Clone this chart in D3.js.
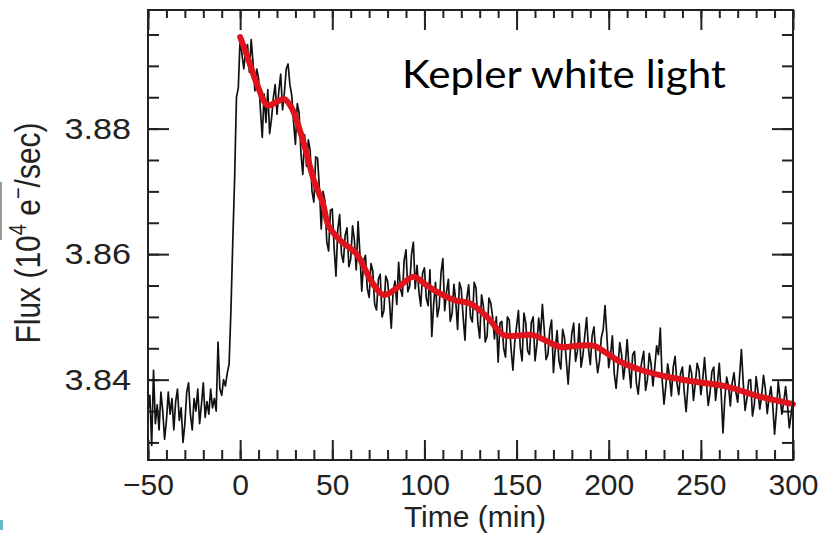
<!DOCTYPE html>
<html lang="en">
  <head>
    <meta charset="utf-8" />
    <title>Kepler white light</title>
    <script src="https://cdn.jsdelivr.net/npm/d3@7"></script>
    <style>
      body { margin: 0; background: #fff; }
      svg { display: block; }
    </style>
  </head>
  <body>
    <script>
      // tick labels
      const timeMajor = [-50, 0, 50, 100, 150, 200, 250, 300];
      const fluxMajor = [3.84, 3.86, 3.88];

      // raw light curve, 1 min cadence starting at -50 min
      const rawStart = -50;
      const rawStep = 1;
      const rawFlux = [
        3.8350, 3.8375, 3.8295, 3.8415, 3.8330, 3.8360, 3.8320, 3.8380, 3.8350, 3.8305,
        3.8335, 3.8380, 3.8345, 3.8370, 3.8320, 3.8365, 3.8385, 3.8335, 3.8355, 3.8300,
        3.8330, 3.8380, 3.8395, 3.8345, 3.8320, 3.8370, 3.8350, 3.8385, 3.8330, 3.8360,
        3.8395, 3.8340, 3.8365, 3.8345, 3.8385, 3.8355, 3.8370, 3.8350, 3.8460, 3.8385,
        3.8375, 3.8400, 3.8390, 3.8410, 3.8425, 3.8510, 3.8620, 3.8720, 3.8850, 3.8865,
        3.8945, 3.8918, 3.8895, 3.8925, 3.8934, 3.8890, 3.8942, 3.8905, 3.8860, 3.8895,
        3.8880, 3.8830, 3.8786, 3.8855, 3.8810, 3.8862, 3.8792, 3.8815, 3.8849, 3.8870,
        3.8823, 3.8860, 3.8887, 3.8830, 3.8857, 3.8895, 3.8903, 3.8870, 3.8853, 3.8810,
        3.8775, 3.8840, 3.8825, 3.8760, 3.8727, 3.8790, 3.8740, 3.8782, 3.8765, 3.8700,
        3.8683, 3.8755, 3.8753, 3.8705, 3.8640, 3.8700, 3.8685, 3.8620, 3.8605, 3.8670,
        3.8672, 3.8610, 3.8565, 3.8640, 3.8663, 3.8600, 3.8587, 3.8630, 3.8642, 3.8580,
        3.8592, 3.8645, 3.8622, 3.8575, 3.8652, 3.8600, 3.8541, 3.8590, 3.8598, 3.8545,
        3.8531, 3.8585, 3.8573, 3.8520, 3.8511, 3.8560, 3.8568, 3.8500, 3.8510, 3.8565,
        3.8557, 3.8525, 3.8482, 3.8540, 3.8557, 3.8520, 3.8587, 3.8545, 3.8533, 3.8590,
        3.8607, 3.8540, 3.8549, 3.8600, 3.8619, 3.8545, 3.8582, 3.8540, 3.8517, 3.8570,
        3.8578, 3.8530, 3.8518, 3.8575, 3.8469, 3.8520, 3.8555, 3.8500, 3.8516, 3.8570,
        3.8593, 3.8510, 3.8540, 3.8560, 3.8493, 3.8505, 3.8552, 3.8525, 3.8480, 3.8555,
        3.8544, 3.8500, 3.8463, 3.8530, 3.8551, 3.8500, 3.8492, 3.8555, 3.8546, 3.8490,
        3.8466, 3.8535, 3.8517, 3.8460, 3.8469, 3.8530, 3.8522, 3.8500, 3.8465, 3.8500,
        3.8428, 3.8490, 3.8493, 3.8450, 3.8436, 3.8500, 3.8495, 3.8450, 3.8415, 3.8460,
        3.8485, 3.8510, 3.8451, 3.8430, 3.8506, 3.8490, 3.8446, 3.8440, 3.8491, 3.8500,
        3.8430, 3.8455, 3.8498, 3.8470, 3.8520, 3.8480, 3.8432, 3.8440, 3.8479, 3.8495,
        3.8411, 3.8450, 3.8478, 3.8430, 3.8417, 3.8480, 3.8467, 3.8430, 3.8393, 3.8440,
        3.8474, 3.8490, 3.8429, 3.8445, 3.8489, 3.8420, 3.8439, 3.8470, 3.8499, 3.8450,
        3.8424, 3.8470, 3.8484, 3.8440, 3.8411, 3.8430, 3.8467, 3.8480, 3.8518, 3.8470,
        3.8419, 3.8440, 3.8470, 3.8410, 3.8386, 3.8420, 3.8459, 3.8440, 3.8401, 3.8425,
        3.8464, 3.8420, 3.8387, 3.8440, 3.8445, 3.8395, 3.8377, 3.8410, 3.8430, 3.8445,
        3.8383, 3.8400, 3.8442, 3.8425, 3.8390, 3.8420, 3.8454, 3.8440, 3.8482, 3.8400,
        3.8361, 3.8390, 3.8425, 3.8405, 3.8374, 3.8420, 3.8437, 3.8395, 3.8376, 3.8410,
        3.8420, 3.8380, 3.8349, 3.8390, 3.8423, 3.8410, 3.8367, 3.8395, 3.8426, 3.8415,
        3.8376, 3.8400, 3.8435, 3.8395, 3.8359, 3.8380, 3.8413, 3.8420, 3.8367, 3.8395,
        3.8426, 3.8380, 3.8315, 3.8370, 3.8404, 3.8390, 3.8358, 3.8395, 3.8411, 3.8380,
        3.8364, 3.8405, 3.8448, 3.8395, 3.8351, 3.8370, 3.8399, 3.8400, 3.8342, 3.8360,
        3.8405, 3.8380, 3.8353, 3.8375, 3.8407, 3.8385, 3.8346, 3.8370, 3.8389, 3.8360,
        3.8313, 3.8350, 3.8397, 3.8370, 3.8345, 3.8365, 3.8389, 3.8360, 3.8323, 3.8345,
        3.8371
      ];

      // smoothed fit (red)
      const smoothTime = [0, 4, 9, 15, 20, 24, 28, 34, 40, 45, 48, 55, 63, 72, 78, 86, 94,
        100, 105, 116, 125, 134, 143, 150, 159, 166, 174, 183, 192, 199, 206, 218, 231,
        246, 264, 282, 300];
      const smoothFlux = [3.8946, 3.8914, 3.8872, 3.8837, 3.8843, 3.8847, 3.8833, 3.8782,
        3.8718, 3.8680, 3.8645, 3.8620, 3.8601, 3.8553, 3.8535, 3.8548, 3.8564, 3.8553,
        3.8543, 3.8527, 3.8521, 3.8500, 3.8471, 3.8470, 3.8471, 3.8462, 3.8452, 3.8454,
        3.8454, 3.8442, 3.8429, 3.8415, 3.8405, 3.8397, 3.8389, 3.8373, 3.8361];

      const W = 826, H = 540;
      const L = 148, R = 793, T = 10, B = 460;

      const rawData = rawFlux.map((v, i) => ({ t: rawStart + i * rawStep, v }));
      const smoothData = smoothTime.map((t, i) => ({ t, v: smoothFlux[i] }));

      const x = d3.scaleLinear().domain([-50, 300]).range([L, R]);
      const y = d3.scaleLinear().domain([3.8272, 3.8989]).range([B, T]);

      const svg = d3.select("body").append("svg")
        .attr("width", W).attr("height", H);

      svg.append("defs").append("clipPath").attr("id", "plot")
        .append("rect").attr("x", L).attr("y", T).attr("width", R - L).attr("height", B - T);

      const font = "'Liberation Sans', Arial, Helvetica, sans-serif";
      const ink = "#222";

      // axes: major + minor ticks pointing inwards on all four sides
      const minorX = d3.range(-50, 301, 10);
      const minorY = d3.range(0, 14).map(i => 3.83 + i * 0.005);

      function styleAxis(g) {
        g.select(".domain").remove();
        g.selectAll(".tick line").attr("stroke", ink).attr("stroke-width", 2);
        g.selectAll(".tick text").attr("fill", ink)
          .style("font-family", font).style("font-size", "30px");
      }

      svg.append("g").attr("transform", `translate(0,${B})`)
        .call(d3.axisBottom(x).tickValues(minorX).tickSize(-10).tickFormat(""))
        .call(styleAxis);
      svg.append("g").attr("transform", `translate(0,${B})`)
        .call(d3.axisBottom(x).tickValues(timeMajor).tickSize(-20).tickPadding(14)
          .tickFormat(d3.format("d")))
        .call(styleAxis);
      svg.append("g").attr("transform", `translate(0,${T})`)
        .call(d3.axisTop(x).tickValues(minorX).tickSize(-8).tickFormat(""))
        .call(styleAxis);
      svg.append("g").attr("transform", `translate(0,${T})`)
        .call(d3.axisTop(x).tickValues(timeMajor).tickSize(-20).tickFormat(""))
        .call(styleAxis);

      svg.append("g").attr("transform", `translate(${L},0)`)
        .call(d3.axisLeft(y).tickValues(minorY).tickSize(-11).tickFormat(""))
        .call(styleAxis);
      svg.append("g").attr("transform", `translate(${L},0)`)
        .call(d3.axisLeft(y).tickValues(fluxMajor).tickSize(-21).tickPadding(16)
          .tickFormat(d3.format(".2f")))
        .call(styleAxis)
        .call(g => g.selectAll(".tick text")
          .attr("x", 0).attr("transform", "translate(-17,0) scale(1.14,1)"));
      svg.append("g").attr("transform", `translate(${R},0)`)
        .call(d3.axisRight(y).tickValues(minorY).tickSize(-11).tickFormat(""))
        .call(styleAxis);
      svg.append("g").attr("transform", `translate(${R},0)`)
        .call(d3.axisRight(y).tickValues(fluxMajor).tickSize(-21).tickFormat(""))
        .call(styleAxis);

      // data
      const rawLine = d3.line().x(d => x(d.t)).y(d => y(d.v));
      svg.append("path").datum(rawData)
        .attr("clip-path", "url(#plot)")
        .attr("d", rawLine)
        .attr("fill", "none").attr("stroke", "#111").attr("stroke-width", 1.7)
        .attr("stroke-linejoin", "round");

      const fitLine = d3.line().x(d => x(d.t)).y(d => y(d.v)).curve(d3.curveCatmullRom);
      svg.append("path").datum(smoothData)
        .attr("d", fitLine)
        .attr("fill", "none").attr("stroke", "#e0141c").attr("stroke-width", 6)
        .attr("stroke-linecap", "round").attr("stroke-linejoin", "round");

      // frame
      svg.append("rect")
        .attr("x", L).attr("y", T).attr("width", R - L).attr("height", B - T)
        .attr("fill", "none").attr("stroke", ink).attr("stroke-width", 2);

      // titles
      svg.append("text")
        .attr("x", 475).attr("y", 527)
        .attr("text-anchor", "middle")
        .style("font-family", font).style("font-size", "30px").attr("fill", ink)
        .text("Time (min)");

      const yt = svg.append("text")
        .attr("transform", "translate(40,233) scale(1.15,1) rotate(-90)")
        .attr("text-anchor", "middle")
        .style("font-family", font).style("font-size", "30px").attr("fill", ink);
      yt.append("tspan").text("Flux (10");
      yt.append("tspan").attr("dy", -12).style("font-size", "20px").text("4");
      yt.append("tspan").attr("dy", 12).text(" e");
      yt.append("tspan").attr("dy", -12).style("font-size", "20px").text("−");
      yt.append("tspan").attr("dy", 12).text("/sec)");

      svg.append("text")
        .attr("transform", "translate(402,88) scale(1.11,1)")
        .style("font-family", "Lato, 'Open Sans', sans-serif").style("font-size", "38px")
        .attr("fill", "#000")
        .text("Kepler white light");

      // scan artefacts at left edge
      svg.append("line").attr("x1", 1).attr("x2", 1).attr("y1", 182).attr("y2", 240)
        .attr("stroke", "#999").attr("stroke-width", 2);
      svg.append("rect").attr("x", 0).attr("y", 520).attr("width", 3).attr("height", 10)
        .attr("fill", "#6cb7c8");
    </script>
  </body>
</html>
